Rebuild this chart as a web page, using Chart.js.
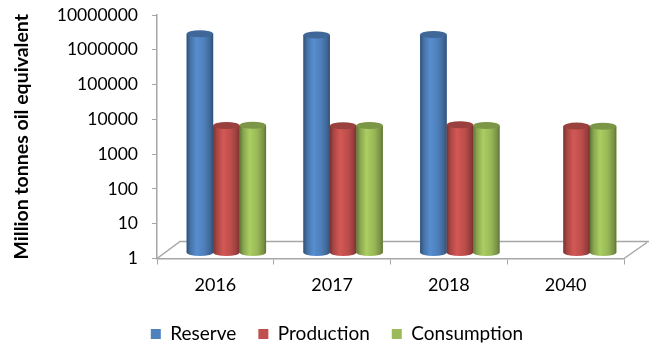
<!DOCTYPE html>
<html>
<head>
<meta charset="utf-8">
<script src="https://cdn.jsdelivr.net/npm/chart.js@4.4.1/dist/chart.umd.min.js"></script>
<style>
  html, body { margin: 0; padding: 0; background: #fff; }
  #wrap { width: 649px; height: 345px; }
</style>
</head>
<body>
<div id="wrap"><canvas id="chart"></canvas></div>
<script>
const years = ['2016', '2017', '2018', '2040'];
const reserve = [1950000, 1800000, 1850000, null];
const production = [4500, 4400, 4700, 4300];
const consumption = [4550, 4450, 4500, 4250];
const yTicks = [1, 10, 100, 1000, 10000, 100000, 1000000, 10000000];

const FONT = 'Lato, "Open Sans", sans-serif';
const AXIS_GREY = '#a6a6a6';
// 3D depth: bars stand half way back on the floor
const DX = 11, DY = -6;
const FLOOR_DX = 23, FLOOR_DY = -17;

function shade(hex, f) {
  const n = parseInt(hex.slice(1), 16);
  const c = [n >> 16, (n >> 8) & 255, n & 255].map(v => Math.max(0, Math.min(255, Math.round(v * f))));
  return `rgb(${c[0]},${c[1]},${c[2]})`;
}

// ===================== cylinders + floor =====================
const cylinders = {
  id: 'cylinders',
  beforeDatasetsDraw(chart) {
    const { ctx, chartArea: a } = chart;
    ctx.save();
    ctx.strokeStyle = AXIS_GREY;
    ctx.lineWidth = 1.5;
    ctx.beginPath();
    ctx.moveTo(a.left, a.bottom);
    ctx.lineTo(a.left + FLOOR_DX, a.bottom + FLOOR_DY);
    ctx.lineTo(a.right + FLOOR_DX + 10, a.bottom + FLOOR_DY);
    ctx.moveTo(a.right, a.bottom);
    ctx.lineTo(a.right + FLOOR_DX, a.bottom + FLOOR_DY + 1);
    ctx.stroke();
    ctx.restore();
    ctx.save();
    ctx.translate(DX, DY);
  },
  afterDatasetsDraw(chart) {
    const { ctx } = chart;
    chart.data.datasets.forEach((ds, di) => {
      const meta = chart.getDatasetMeta(di);
      if (meta.hidden) return;
      meta.data.forEach((el, i) => {
        if (ds.data[i] == null) return;
        const { x, y, base, width } = el.getProps(['x', 'y', 'base', 'width'], true);
        const x0 = x - width / 2, x1 = x + width / 2;
        const rx = width / 2, ry = 3.5;
        const g = ctx.createLinearGradient(x0, 0, x1, 0);
        g.addColorStop(0, shade(ds.backgroundColor, 0.62));
        g.addColorStop(0.14, shade(ds.backgroundColor, 0.88));
        g.addColorStop(0.38, shade(ds.backgroundColor, 1.1));
        g.addColorStop(0.68, shade(ds.backgroundColor, 0.98));
        g.addColorStop(0.9, shade(ds.backgroundColor, 0.78));
        g.addColorStop(1, shade(ds.backgroundColor, 0.62));
        ctx.fillStyle = g;
        ctx.fillRect(x0, y, width, base - y);
        ctx.beginPath();
        ctx.ellipse(x, base, rx, ry, 0, 0, Math.PI * 2);
        ctx.fill();
        ctx.beginPath();
        ctx.ellipse(x, y, rx, ry, 0, 0, Math.PI * 2);
        ctx.fillStyle = shade(ds.backgroundColor, 0.8);
        ctx.fill();
      });
    });
    ctx.restore();
  }
};

new Chart(document.getElementById('chart'), {
  type: 'bar',
  data: {
    labels: years,
    datasets: [
      { label: 'Reserve', data: reserve, backgroundColor: '#4F81BD', borderWidth: 0 },
      { label: 'Production', data: production, backgroundColor: '#C0504D', borderWidth: 0 },
      { label: 'Consumption', data: consumption, backgroundColor: '#9BBB59', borderWidth: 0 },
    ]
  },
  options: {
    responsive: true,
    maintainAspectRatio: false,
    animation: false,
    layout: { padding: { top: 15, right: 25, bottom: 2.5, left: 50 } },
    datasets: { bar: { categoryPercentage: 0.68, barPercentage: 1 } },
    plugins: {
      tooltip: { enabled: false },
      legend: {
        position: 'bottom',
        maxHeight: 40,
        labels: {
          boxWidth: 10, boxHeight: 10, padding: 22,
          color: '#000', font: { family: FONT, size: 19 }
        }
      }
    },
    scales: {
      x: {
        grid: { drawOnChartArea: false, tickLength: 6, color: AXIS_GREY },
        border: { color: AXIS_GREY, width: 1.5 },
        ticks: { color: '#000', padding: 10, font: { family: FONT, size: 18 } },
        afterFit: s => { s.height = 44; }
      },
      y: {
        type: 'logarithmic',
        min: 1, max: 10000000,
        grid: { drawOnChartArea: false, tickLength: 5, color: AXIS_GREY },
        border: { color: AXIS_GREY, width: 1.5 },
        afterBuildTicks: s => { s.ticks = yTicks.map(v => ({ value: v })); },
        ticks: {
          color: '#000', padding: 14, font: { family: FONT, size: 17.5 },
          callback: v => String(v)
        },
        title: {
          display: true, text: 'Million tonnes oil equivalent', color: '#000',
          font: { family: FONT, size: 19.5, weight: 'bold' },
          padding: { top: -39.5, bottom: 0 }
        },
        afterFit: s => { s.width = 107; s.paddingTop = 0; s.paddingBottom = 0; }
      }
    }
  },
  plugins: [cylinders]
});
</script>
</body>
</html>
